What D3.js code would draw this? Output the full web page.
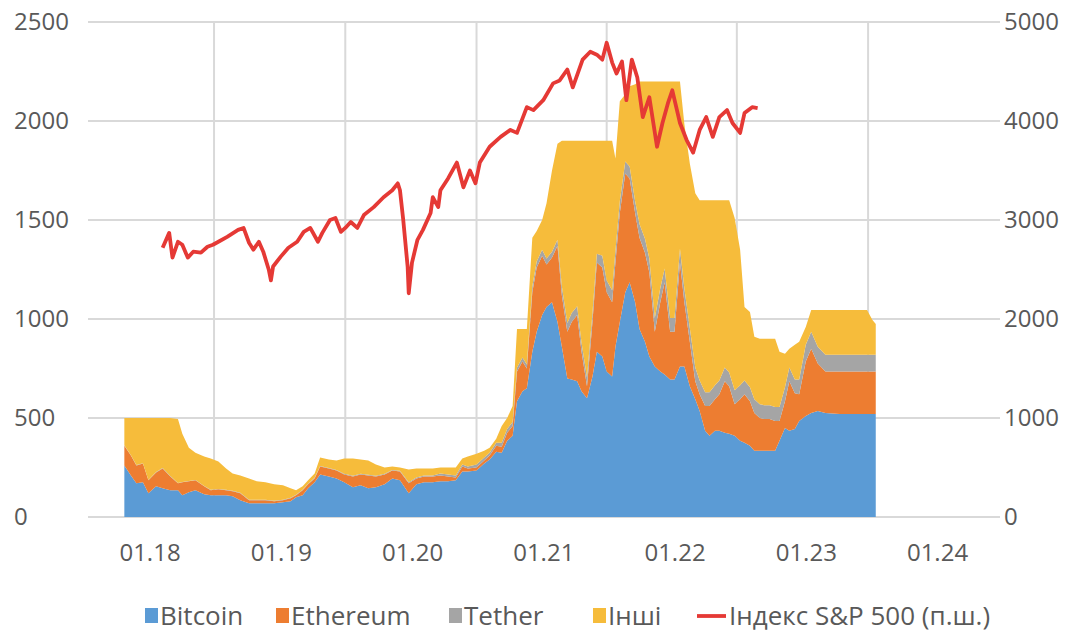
<!DOCTYPE html>
<html>
<head>
<meta charset="utf-8">
<script src="https://d3js.org/d3.v7.min.js"></script>
<style>
  body { margin: 0; background: #fff; }
  text { font-family: "Open Sans", sans-serif; fill: #595959; }
</style>
</head>
<body>
<svg id="chart" width="1081" height="632"></svg>
<script>
/* data */

// month positions (months since 01.2018) of the stacked samples
var areaMonth = [-2.3,-1.7,-1.2,-0.6,-0.1,0.6,1.2,1.9,2.6,3.0,3.6,4.2,5.0,5.6,6.3,7.0,7.6,8.3,9.1,9.8,
  10.6,11.4,12.2,12.9,13.4,14.0,14.5,15.1,15.6,16.4,17.1,17.8,18.6,19.3,20.0,20.7,21.5,22.2,22.9,23.7,
  24.4,25.1,25.9,26.6,27.3,28.0,28.6,29.1,29.9,30.6,31.1,31.7,32.2,32.7,33.2,33.6,34.1,34.5,35.0,35.4,
  35.9,36.3,36.8,37.3,37.7,38.2,38.6,39.1,39.5,40.0,40.5,40.9,41.4,41.8,42.3,42.6,43.0,43.5,43.9,44.4,
  44.8,45.3,45.7,46.2,46.7,47.1,47.6,48.0,48.5,48.9,49.4,49.9,50.3,50.8,51.2,51.7,52.1,52.6,53.0,53.5,
  54.0,54.4,54.9,55.3,55.8,56.2,56.7,57.2,57.6,58.1,58.5,59.0,59.4,60.0,60.5,61.1,61.8,63.1,64.5,65.6,
  66.1,66.4];

var bitcoin = [260,210,170,175,120,155,145,135,135,110,125,135,115,110,110,110,105,85,70,70,
  70,70,75,80,100,110,145,175,215,205,195,175,150,160,145,150,165,195,185,120,
  165,175,175,180,180,185,230,230,235,270,290,330,325,385,410,585,635,650,835,935,
  1020,1060,1085,985,860,700,695,685,635,600,710,835,810,735,710,860,985,1135,1185,1085,
  950,885,810,760,735,720,695,695,760,760,660,595,535,435,410,435,435,425,420,410,
  385,375,360,335,335,335,335,335,385,450,435,445,485,510,525,535,525,520,520,520,
  520,520];

var ethereum = [100,100,90,95,65,70,100,70,35,65,55,50,40,25,30,25,25,35,15,15,
  15,10,10,15,10,25,20,20,40,40,40,40,55,55,65,55,50,40,45,50,
  30,30,30,30,25,15,25,15,15,15,20,30,30,40,50,150,150,100,300,325,
  300,215,225,385,260,235,290,335,200,60,275,450,450,400,375,425,550,600,525,450,
  460,450,425,175,350,465,240,240,525,325,225,90,85,125,150,160,185,260,240,160,
  210,245,225,190,165,160,160,150,100,135,250,180,135,275,325,240,210,215,215,215,
  215,215];

var tether = [2,2,2,2,2,2,2,2,2,2,2,2,2,2,2,2,2,2,2,2,
  2,2,2,2,2,3,3,3,3,3,3,3,3,3,3,3,3,3,3,5,
  5,5,5,10,10,10,10,10,15,15,15,15,20,20,20,20,20,20,30,30,
  30,30,30,30,45,45,45,45,45,45,45,45,60,60,60,60,60,60,60,60,
  70,70,70,70,70,70,70,70,70,70,70,70,70,70,70,70,70,70,70,70,
  70,70,70,70,70,70,70,70,70,70,70,70,75,85,85,85,85,85,85,85,
  85,85];

var other = [138,188,238,228,313,273,253,293,323,243,168,138,148,158,138,108,88,88,108,93,
  88,83,73,48,23,17,17,22,42,42,47,77,87,72,72,57,32,17,17,65,
  45,35,35,30,35,40,30,50,55,35,25,20,85,55,80,195,145,180,245,155,
  150,280,410,485,735,920,870,835,1020,1195,870,570,580,705,755,465,505,340,405,590,
  720,795,895,1195,1045,945,1195,1195,845,830,830,880,910,970,970,935,910,845,870,870,
  685,370,380,315,330,335,335,345,280,170,95,175,190,90,110,185,225,225,225,225,
  175,155];

// S&P 500 index, right axis
var spMonth = [1.2,1.8,2.1,2.6,3.0,3.5,4.0,4.7,5.3,5.8,6.3,7.1,8.1,8.6,9.1,9.5,10.0,10.4,10.9,11.1,
  11.3,12.0,12.7,13.5,14.1,14.7,15.4,15.8,16.5,17.0,17.5,17.9,18.4,19.0,19.6,20.5,21.4,22.2,22.7,22.9,
  23.2,23.6,23.7,24.0,24.5,25.0,25.7,25.9,26.4,26.6,27.3,28.1,28.7,29.3,29.8,30.2,31.1,32.1,33.0,33.6,
  34.5,35.1,36.0,36.9,37.5,38.2,38.7,39.6,40.3,40.9,41.4,41.8,42.3,42.7,43.2,43.6,44.1,44.6,45.1,45.7,
  46.4,46.9,47.4,47.8,48.5,49.1,49.7,50.3,50.9,51.5,52.1,52.8,53.3,54.0,54.4,55.1,55.6];

var spValue = [2720,2870,2620,2780,2750,2620,2680,2670,2730,2750,2780,2830,2900,2920,2770,2700,2780,2680,2500,2390,
  2530,2630,2720,2780,2880,2920,2780,2870,3000,3020,2880,2920,2980,2920,3050,3130,3230,3300,3370,3300,
  3000,2530,2260,2570,2800,2900,3070,3230,3130,3300,3420,3580,3330,3500,3370,3580,3740,3840,3910,3880,
  4140,4110,4210,4380,4410,4520,4340,4620,4700,4670,4620,4790,4590,4480,4600,4210,4620,4440,4040,4240,
  3740,3980,4180,4310,3980,3810,3680,3910,4040,3840,4040,4110,3980,3880,4080,4140,4130];

var xLabels = ["01.18","01.19","01.20","01.21","01.22","01.23","01.24"];
var gridMonths = [5.9, 17.9, 29.9, 41.8, 53.7, 65.7];
var leftTicks = [0, 500, 1000, 1500, 2000, 2500];
var rightTicks = [0, 1000, 2000, 3000, 4000, 5000];

var keys = ["Bitcoin", "Ethereum", "Tether", "Інші"];
var colors = ["#5b9bd5", "#ed7d31", "#a5a5a5", "#f6bc3b"];
var spName = "Індекс S&P 500 (п.ш.)";
var spColor = "#e53935";

/* scales */

var svg = d3.select("#chart");

var x = d3.scaleLinear().domain([0, 72]).range([149.5, 937]);
var y = d3.scaleLinear().domain([0, 2500]).range([517, 22]);
var y2 = d3.scaleLinear().domain([0, 5000]).range([517, 22]);

// grid
var grid = svg.append("g");
grid.selectAll("line.h").data(leftTicks).enter().append("line")
  .attr("x1", 88).attr("x2", 1000)
  .attr("y1", function(d){return y(d);}).attr("y2", function(d){return y(d);})
  .attr("stroke", "#d9d9d9").attr("stroke-width", 2);
grid.selectAll("line.v").data(gridMonths).enter().append("line")
  .attr("x1", function(d){return x(d);}).attr("x2", function(d){return x(d);})
  .attr("y1", y(2500)).attr("y2", y(0))
  .attr("stroke", "#d9d9d9").attr("stroke-width", 2);

// stacked areas
var rows = areaMonth.map(function(m, i){
  return {m: m, "Bitcoin": bitcoin[i], "Ethereum": ethereum[i], "Tether": tether[i], "Інші": other[i]};
});
var series = d3.stack().keys(keys)(rows);
var area = d3.area()
  .x(function(d){return x(d.data.m);})
  .y0(function(d){return y(d[0]);})
  .y1(function(d){return y(d[1]);});
svg.append("g").selectAll("path").data(series).enter().append("path")
  .attr("d", area)
  .attr("fill", function(d, i){return colors[i];});

// S&P line
var line = d3.line()
  .x(function(d){return x(d[0]);})
  .y(function(d){return y2(d[1]);});
svg.append("path")
  .datum(spMonth.map(function(m, i){return [m, spValue[i]];}))
  .attr("d", line)
  .attr("fill", "none")
  .attr("stroke", spColor)
  .attr("stroke-width", 3.8)
  .attr("stroke-linejoin", "round");

// axes
var yAxis = d3.axisLeft(y).tickValues(leftTicks).tickFormat(d3.format("d")).tickSize(0).tickPadding(0);
var gy = svg.append("g").attr("transform", "translate(14,0)").call(yAxis);
gy.select(".domain").remove();
gy.selectAll("text").attr("text-anchor", "start").style("font-size", "24px").attr("fill", "#595959");

var yAxis2 = d3.axisRight(y2).tickValues(rightTicks).tickFormat(d3.format("d")).tickSize(0).tickPadding(0);
var gy2 = svg.append("g").attr("transform", "translate(1004,0)").call(yAxis2);
gy2.select(".domain").remove();
gy2.selectAll("text").style("font-size", "24px").attr("fill", "#595959");

var xAxis = d3.axisBottom(x).tickValues(d3.range(xLabels.length).map(function(i){return i*12;}))
  .tickFormat(function(d, i){return xLabels[i];}).tickSize(0).tickPadding(0);
var gx = svg.append("g").attr("transform", "translate(0,544)").call(xAxis);
gx.select(".domain").remove();
gx.selectAll("text").style("font-size", "24px").attr("fill", "#595959");

// legend
var legendX = [145, 276, 449, 593];
var lg = svg.append("g");
keys.forEach(function(k, i){
  lg.append("rect").attr("x", legendX[i]).attr("y", 608).attr("width", 13).attr("height", 15).attr("fill", colors[i]);
  lg.append("text").attr("x", legendX[i] + 15).attr("y", 625).style("font-size", "26px").text(k);
});
lg.append("line").attr("x1", 697).attr("x2", 726).attr("y1", 616).attr("y2", 616)
  .attr("stroke", spColor).attr("stroke-width", 3.8);
lg.append("text").attr("x", 729).attr("y", 625).style("font-size", "26px").text(spName);
</script>
</body>
</html>
